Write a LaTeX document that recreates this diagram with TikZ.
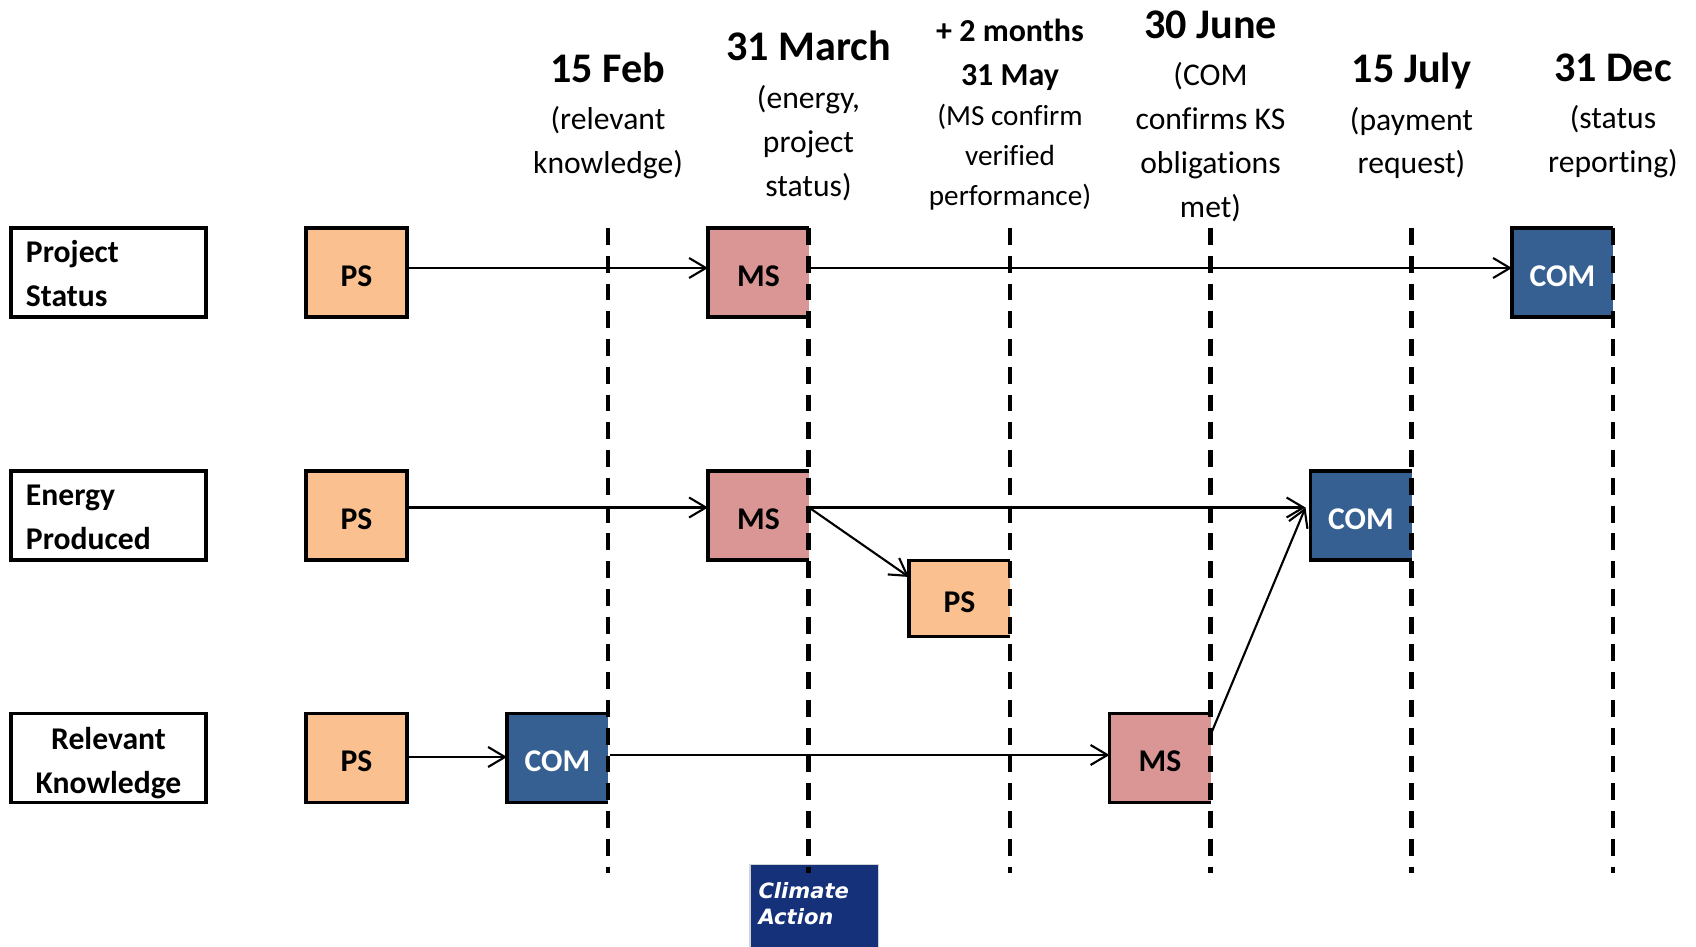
\documentclass[tikz,border=0pt]{standalone}
\usepackage{fontspec}
\setmainfont{Carlito}[Ligatures=NoCommon]
\newfontfamily\climatefont{DejaVu Sans}
\usepackage{tikz}
\usetikzlibrary{arrows.meta}
\usetikzlibrary{shadows}
\definecolor{psfill}{HTML}{FAC090}
\definecolor{msfill}{HTML}{D99694}
\definecolor{comfill}{HTML}{376092}
\definecolor{climatefill}{HTML}{14317A}
\newcommand{\headdate}[1]{{\fontsize{12}{14.4}\selectfont\bfseries #1}}
\newcommand{\headmonth}[1]{{\fontsize{9.1}{12.5}\selectfont\bfseries #1}}
\newcommand{\labeltext}[3]{\rule{0pt}{#3}#1\\#2\rule[-2pt]{0pt}{0pt}}
\tikzset{stage/.style = {shape=rectangle,minimum width=1.01cm,minimum height=.89cm,inner sep=0pt,outer sep=0pt,
    font=\fontsize{9}{11}\selectfont\bfseries,text height=7.8pt,text depth=0pt}}
\tikzset{ps/.style = {stage,fill=psfill}}
\tikzset{ms/.style = {stage,fill=msfill}}
\tikzset{com/.style = {stage,fill=comfill,text=white}}
\tikzset{rowlabel/.style = {shape=rectangle,draw,line width=.95pt,minimum width=1.95cm,minimum height=.89cm,inner xsep=.15cm,inner ysep=0pt,
    text width=1.65cm,align=left,font=\fontsize{9}{12.5}\selectfont\bfseries}}
\tikzset{head/.style = {align=center,inner sep=0pt,font=\fontsize{9}{12.5}\selectfont}}
\tikzset{border/.style = {line width=.95pt}}
\tikzset{deadline/.style = {line width=1.2pt,dash pattern=on 4.8pt off 3.1pt}}
\tikzset{edge/.style = {-{Straight Barb[length=4.8pt,width=5.7pt]},line width=.6pt}}

\begin{document}
\begin{tikzpicture}
            \useasboundingbox (0,0) rectangle (16.96,-9.47);

            % Row labels
            \node[rowlabel] (status) at (1.085,-2.725) {\labeltext{Project}{Status}{8.6pt}};
            \node[rowlabel] (energy) at (1.085,-5.155) {\labeltext{Energy}{Produced}{8.6pt}};
            \node[rowlabel,align=center] (knowledge) at (1.085,-7.58) {\labeltext{Relevant}{Knowledge}{9.6pt}};

            % Column heads
            \node[head] (feb) at (6.08,-1.16) {\headdate{15 Feb}\\[1pt](relevant\\knowledge)};
            \node[head] (march) at (8.085,-1.16) {\headdate{31 March}\\[1pt](energy,\\project\\status)};
            \node[head,font=\fontsize{8.3}{11.4}\selectfont] (may) at (10.10,-1.15) {\headmonth{+ 2 months}\\[1pt]\headmonth{31 May}\\(MS confirm\\verified\\performance)};
            \node[head] (june) at (12.105,-1.16) {\headdate{30 June}\\[1pt](COM\\confirms KS\\obligations\\met)};
            \node[head] (july) at (14.115,-1.16) {\headdate{15 July}\\[1pt](payment\\request)};
            \node[head] (dec) at (16.13,-1.16) {\headdate{31 Dec}\\[1pt](status\\reporting)};

            % Stages
            \node[ps,draw,line width=.95pt] (ps1) at (3.565,-2.725) {PS};
            \node[ms] (ms1) at (7.585,-2.725) {MS};
            \node[com] (com1) at (15.625,-2.725) {COM};

            \node[ps,draw,line width=.95pt] (ps2) at (3.565,-5.155) {PS};
            \node[ms] (ms2) at (7.585,-5.155) {MS};
            \node[ps,minimum height=.76cm] (ps4) at (9.595,-5.985) {PS};
            \node[com] (com2) at (13.61,-5.155) {COM};

            \node[ps,draw,line width=.95pt] (ps3) at (3.565,-7.58) {PS};
            \node[com] (com3) at (5.575,-7.58) {COM};
            \node[ms] (ms3) at (11.60,-7.58) {MS};

            % Borders, open on the side of the deadline
            \foreach \name in {ms1,com1,ms2,ps4,com2,com3,ms3}
                \draw[border] (\name.north east) -- (\name.north west) -- (\name.south west) -- (\name.south east);

            % Climate Action
            \node[shape=rectangle,fill=climatefill,drop shadow={shadow xshift=0pt,shadow yshift=0pt,shadow scale=1.02,opacity=.35},
                minimum width=1.27cm,minimum height=.84cm,inner sep=0pt,
                text=white,text width=1.11cm,align=left,font=\climatefont\fontsize{6}{7.4}\selectfont\bfseries\itshape] (climate) at (8.14,-9.07)
                {Climate\\Action\rule[-2pt]{0pt}{0pt}};

            % Deadlines
            \foreach \name/\x in {feb/6.08,march/8.085,may/10.10,june/12.105,july/14.115,dec/16.13}{
                \coordinate (\name top) at (\x,-2.28);
                \coordinate (\name bottom) at (\x,-8.73);
                \draw[deadline] (\name top) -- (\name bottom);
            }

            % Edges
            % Project Status
            \draw[edge] ([yshift=.045cm]ps1.east) to ([yshift=.045cm]ms1.west);
            \draw[edge] ([yshift=.045cm]ms1.east) to ([yshift=.045cm]com1.west);

            % Energy Produced
            \draw[edge] ([yshift=.08cm]ps2.east) to ([yshift=.08cm]ms2.west);
            \draw[edge] ([yshift=.08cm]ms2.east) to ([yshift=.215cm]ps4.west);
            \draw[edge] ([yshift=.08cm]ms2.east) to ([xshift=-.05cm,yshift=.08cm]com2.west);

            % Relevant Knowledge
            \draw[edge] ([yshift=.01cm]ps3.east) to ([yshift=.01cm]com3.west);
            \draw[edge] ([xshift=.02cm,yshift=.03cm]com3.east) to ([yshift=.03cm]ms3.west);
            \draw[edge] ([yshift=.23cm]ms3.east) to ([xshift=-.05cm,yshift=.08cm]com2.west);
\end{tikzpicture}
\end{document}
